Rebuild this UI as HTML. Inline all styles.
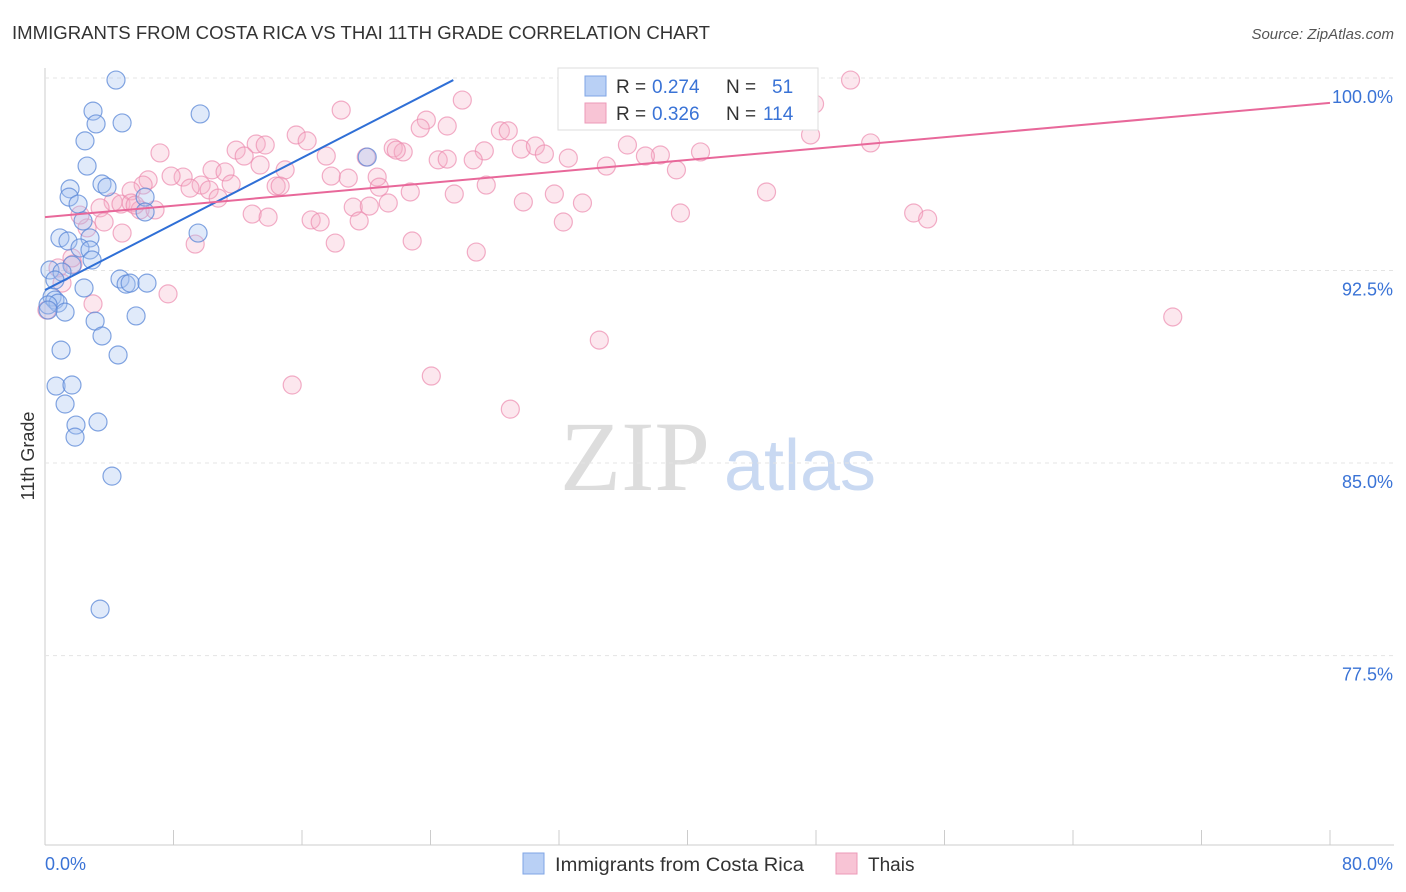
<!DOCTYPE html>
<html><head><meta charset="utf-8">
<style>
body{margin:0;background:#fff;width:1406px;height:892px;overflow:hidden;font-family:"Liberation Sans",sans-serif;}
svg{position:absolute;left:0;top:0}
</style></head>
<body>
<svg id="chart" width="1406" height="892">
<text x="12" y="39" font-size="18" fill="#333" textLength="698" lengthAdjust="spacingAndGlyphs">IMMIGRANTS FROM COSTA RICA VS THAI 11TH GRADE CORRELATION CHART</text>
<text x="1394" y="39" font-size="15" fill="#555" font-style="italic" text-anchor="end">Source: ZipAtlas.com</text>
<text x="34" y="456" font-size="18" fill="#333" transform="rotate(-90 34 456)" text-anchor="middle">11th Grade</text>
<g>
<text x="635" y="490" font-size="100" font-family="Liberation Serif" fill="#ddd" text-anchor="middle">ZIP</text>
<text x="800" y="490" font-size="72" fill="#c9d9f2" text-anchor="middle">atlas</text>
</g>
<g id="grid"></g><g id="pts"></g><g id="lines"></g>
<g>
<rect x="558" y="68" width="260" height="62" fill="#fff" stroke="#ddd"/>
<rect x="585" y="76" width="21" height="20" fill="#b9d0f5" stroke="#7fa5e5"/>
<rect x="585" y="103" width="21" height="20" fill="#f8c4d5" stroke="#ec9ab8"/>
<text y="93" font-size="19" fill="#333"><tspan x="616">R =</tspan><tspan x="652" fill="#3a73d6">0.274</tspan><tspan x="726">N =</tspan><tspan x="772" fill="#3a73d6">51</tspan></text>
<text y="120" font-size="19" fill="#333"><tspan x="616">R =</tspan><tspan x="652" fill="#3a73d6">0.326</tspan><tspan x="726">N =</tspan><tspan x="763" fill="#3a73d6">114</tspan></text>
</g>
<g>
<rect x="523" y="853" width="21" height="21" fill="#b9d0f5" stroke="#7fa5e5"/>
<text x="555" y="871" font-size="19" fill="#333" textLength="249" lengthAdjust="spacingAndGlyphs">Immigrants from Costa Rica</text>
<rect x="836" y="853" width="21" height="21" fill="#f8c4d5" stroke="#ec9ab8"/>
<text x="868" y="871" font-size="19" fill="#333">Thais</text>
</g>
<text x="45" y="870" font-size="18" fill="#3a73d6">0.0%</text>
<text x="1393" y="870" font-size="18" fill="#3a73d6" text-anchor="end">80.0%</text>
</svg>
<script>
const yTicks=[100,92.5,85,77.5];
const yTickLabels=["100.0%","92.5%","85.0%","77.5%"];
const blueX=[4.42,2.99,9.66,3.18,4.80,2.49,2.62,1.56,3.55,3.86,1.50,2.06,6.23,6.23,2.37,0.93,1.43,2.80,2.18,2.80,2.93,1.68,0.31,1.06,9.53,4.67,5.05,5.30,6.35,2.43,0.44,0.62,0.81,0.19,1.25,3.12,5.67,3.55,1.00,4.55,0.69,1.68,1.25,3.30,1.93,1.87,4.17,3.43,20.06,0.19,0.62];
const blueY=[99.92,98.71,98.6,98.21,98.25,97.55,96.57,95.68,95.87,95.75,95.36,95.09,95.36,94.78,94.43,93.77,93.65,93.77,93.38,93.30,92.91,92.71,92.52,92.44,93.96,92.17,91.97,92.01,92.01,91.82,91.47,91.35,91.23,91.16,90.88,90.53,90.73,89.95,89.40,89.21,88.00,88.04,87.30,86.60,86.48,86.01,84.49,79.31,96.92,90.96,92.13];
const pinkX=[32.83,38.75,41.74,50.15,25.98,18.44,33.21,36.57,47.91,47.04,23.74,23.36,25.04,28.35,28.84,15.64,13.15,16.32,13.71,11.90,12.40,7.16,17.51,21.68,22.30,21.87,20.00,27.35,29.65,30.53,31.09,32.58,36.26,38.31,37.38,40.81,24.48,25.04,26.66,47.66,51.40,14.95,10.40,11.21,8.60,6.42,6.11,7.85,9.72,10.22,9.03,11.59,14.39,14.64,17.82,18.88,20.68,20.81,22.74,27.47,31.71,34.95,39.31,44.92,5.36,4.24,4.73,5.36,5.92,6.85,3.43,3.68,4.80,2.62,12.90,13.89,16.57,17.13,19.19,20.19,21.37,19.56,25.48,29.78,33.46,32.27,39.56,54.08,54.95,18.07,22.86,26.85,9.35,1.74,0.81,1.06,2.99,7.66,70.21,34.51,15.39,24.05,28.97,1.68,0.12,2.18,5.61,10.78,13.39];
const pinkY=[99.92,99.92,99.92,99.92,99.14,98.75,98.75,98.75,98.99,98.64,98.36,98.05,98.13,97.94,97.94,97.78,97.43,97.55,97.39,97.19,96.96,97.08,96.96,97.27,97.12,97.19,96.92,97.16,97.23,97.35,97.04,96.88,97.39,97.00,96.96,97.12,96.81,96.84,96.81,97.78,97.47,96.42,96.42,96.34,96.14,96.03,95.83,96.18,95.83,95.64,95.71,95.87,95.79,95.79,96.18,96.10,96.14,95.75,95.56,95.83,95.48,96.57,96.42,95.56,95.60,95.17,95.09,95.13,94.86,94.86,94.94,94.39,93.96,94.16,94.70,94.58,94.47,94.39,94.97,95.01,95.13,94.43,95.48,95.17,95.13,94.39,94.74,94.74,94.51,93.57,93.65,93.22,93.53,92.75,92.60,92.01,91.20,91.59,90.69,89.79,88.04,88.39,87.10,92.99,90.96,94.66,95.05,95.32,96.61];
const blueLine=[[0,91.74],[25.42,99.92]];
const pinkLine=[[0,94.58],[80,99.03]];
const NS="http://www.w3.org/2000/svg";
const xs=v=>45+v/80*1285;
const ys=v=>78+(100-v)*25.67;
function mk(tag,attrs,parent){const e=document.createElementNS(NS,tag);for(const k in attrs)e.setAttribute(k,attrs[k]);parent.appendChild(e);return e;}
const grid=document.getElementById('grid');
const ax=mk('line',{x1:45,y1:68,x2:45,y2:845,stroke:'#ccc'},grid);


const bx=mk('line',{x1:45,y1:845,x2:1394,y2:845,stroke:'#ccc'},grid);


for(let i=0;i<=10;i++){const t=mk('line',{x1:45+i*128.5,y1:830,x2:45+i*128.5,y2:845,stroke:'#ccc'},grid);

}
yTicks.forEach((v,i)=>{const g=mk('line',{x1:45,y1:ys(v),x2:1394,y2:ys(v),stroke:'#e4e4e4','stroke-dasharray':'4,4'},grid);


const t=mk('text',{x:1393,y:ys(v)+25,'font-size':18,fill:'#3a73d6','text-anchor':'end'},grid);
t.textContent=yTickLabels[i];

});
const pts=document.getElementById('pts');
pinkX.forEach((x,i)=>{const c=mk('circle',{cx:xs(x),cy:ys(pinkY[i]),r:9,fill:'rgba(245,175,200,0.3)',stroke:'rgba(236,140,175,0.7)','stroke-width':1.2},pts);

});
blueX.forEach((x,i)=>{const c=mk('circle',{cx:xs(x),cy:ys(blueY[i]),r:9,fill:'rgba(165,195,240,0.35)',stroke:'rgba(90,135,215,0.75)','stroke-width':1.2},pts);

});
const lines=document.getElementById('lines');
const bl=mk('line',{x1:xs(blueLine[0][0]),y1:ys(blueLine[0][1]),x2:xs(blueLine[1][0]),y2:ys(blueLine[1][1]),stroke:'#2f6fd6','stroke-width':2},lines);


const pl=mk('line',{x1:xs(pinkLine[0][0]),y1:ys(pinkLine[0][1]),x2:xs(pinkLine[1][0]),y2:ys(pinkLine[1][1]),stroke:'#e8689a','stroke-width':2},lines);


</script>
</body></html>
